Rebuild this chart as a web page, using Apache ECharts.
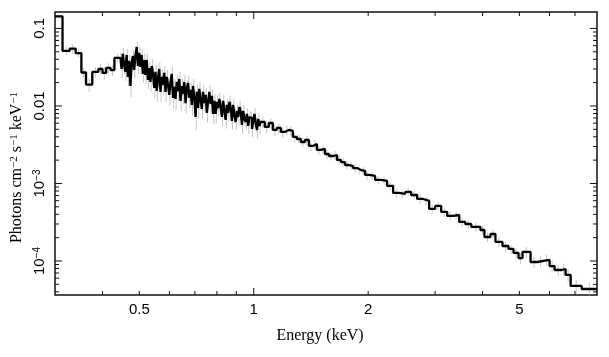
<!DOCTYPE html>
<html><head><meta charset="utf-8">
<script src="https://cdn.jsdelivr.net/npm/echarts@6/dist/echarts.min.js"></script>
<style>html,body{margin:0;padding:0;background:#fff}#c{width:609px;height:357px}</style>
</head><body><div id="c"></div>
<script>
// Bin edges in keV (n+1 values)
const binEdges = [
  0.300, 0.314, 0.328, 0.340, 0.352, 0.362, 0.376, 0.390, 0.400, 0.409, 0.420, 0.430,
  0.4457, 0.4491, 0.4525, 0.4559, 0.4595, 0.4630, 0.4665, 0.4701, 0.4737, 0.4773,
  0.4809, 0.4846, 0.4883, 0.4920, 0.4958, 0.4996, 0.5034, 0.5072, 0.5111, 0.5150,
  0.5189, 0.5229, 0.5268, 0.5308, 0.5349, 0.5390, 0.5431, 0.5472, 0.5514, 0.5556,
  0.5598, 0.5641, 0.5684, 0.5727, 0.5771, 0.5815, 0.5859, 0.5904, 0.5949, 0.5994,
  0.6040, 0.6086, 0.6132, 0.6179, 0.6226, 0.6273, 0.6321, 0.6369, 0.6418, 0.6467,
  0.6516, 0.6566, 0.6616, 0.6666, 0.6717, 0.6768, 0.6820, 0.6872, 0.6924, 0.6977,
  0.7030, 0.7084, 0.7138, 0.7192, 0.7247, 0.7302, 0.7358, 0.7414, 0.7471, 0.7528,
  0.7585, 0.7643, 0.7701, 0.7760, 0.7819, 0.7879, 0.7939, 0.8000, 0.8060, 0.8121,
  0.8184, 0.8246, 0.8309, 0.8372, 0.8436, 0.8500, 0.8565, 0.8630, 0.8696, 0.8762,
  0.8829, 0.8896, 0.8964, 0.9032, 0.9101, 0.9170, 0.9240, 0.9310, 0.9382, 0.9453,
  0.9525, 0.9598, 0.9671, 0.9745, 0.9819, 0.9894, 0.9969, 1.0045, 1.0122, 1.0199,
  1.0277, 1.0355,
  1.0434, 1.0691, 1.0954, 1.1223, 1.1499, 1.1782, 1.2072, 1.2369, 1.2673, 1.2985,
  1.3304, 1.3631, 1.3967, 1.4310, 1.4662, 1.5023, 1.5393, 1.5771, 1.6159, 1.6557,
  1.6964, 1.7381, 1.7809, 1.8247, 1.8696, 1.9156, 1.9627,
  2.0110, 2.0856, 2.1629, 2.2431, 2.3263, 2.4126, 2.5021, 2.5949, 2.6911, 2.7909,
  2.8944, 3.0018, 3.1131, 3.2286, 3.3483, 3.4725, 3.6013,
  3.7348, 3.948, 4.045, 4.195, 4.324, 4.512, 4.679, 4.824, 4.973, 5.095,
  5.349, 5.581, 5.788, 6.003, 6.188, 6.457, 6.615, 6.820, 7.292, 8.0
];
// Flux (photons cm^-2 s^-1 keV^-1), one per bin
const flux = [
  0.143, 0.0513, 0.055, 0.048, 0.027, 0.0189, 0.0275, 0.030, 0.0267, 0.031, 0.029, 0.0416,
  0.0404, 0.0300, 0.0469, 0.0338, 0.0275, 0.0455, 0.0237, 0.0381,
  0.0181, 0.0359, 0.0442, 0.0291, 0.0442, 0.0577, 0.0328, 0.0483,
  0.0319, 0.0455, 0.0259, 0.0392, 0.0251, 0.0392, 0.0217, 0.0309,
  0.0204, 0.0328, 0.0259, 0.0171, 0.0275, 0.0156, 0.0230, 0.0300,
  0.0152, 0.0237, 0.0187, 0.0267, 0.0152, 0.0237, 0.0187, 0.0139,
  0.0204, 0.0259, 0.0127, 0.0176, 0.0123, 0.0204, 0.0156, 0.0223,
  0.0116, 0.0181, 0.0143, 0.0204, 0.0109, 0.0171, 0.0198, 0.0127,
  0.0161, 0.0103, 0.0181, 0.0127, 0.00721, 0.0152, 0.00942, 0.0166,
  0.0120, 0.00915, 0.0152, 0.0109, 0.0139, 0.00812, 0.0116, 0.0152,
  0.0106, 0.0135, 0.00788, 0.0116, 0.00788, 0.0113, 0.00942, 0.0123,
  0.00971, 0.00721, 0.0116, 0.00862, 0.00660, 0.0103, 0.00812, 0.0113,
  0.00942, 0.00641, 0.0103, 0.00765, 0.00622, 0.00862, 0.00721, 0.00971,
  0.00837, 0.00569, 0.00862, 0.00679, 0.00622, 0.00788, 0.00552, 0.00721,
  0.00700, 0.00505, 0.00641, 0.00788, 0.00586, 0.00490, 0.00679, 0.00552,
  0.00622, 0.00536, 0.00603, 0.00490, 0.00520, 0.00462, 0.00490, 0.00476, 0.00398, 0.00375,
  0.00343, 0.00364, 0.00305, 0.00323, 0.00271, 0.00279, 0.00240, 0.00226, 0.00233, 0.00201,
  0.00189, 0.00173, 0.00168, 0.00158, 0.00149, 0.00145, 0.00129,
  1.25e-3, 1.11e-3, 1.08e-3, 9.3e-4, 7.54e-4, 7.32e-4, 7.77e-4, 7.10e-4, 6.31e-4, 5.95e-4,
  4.69e-4, 5.13e-4, 4.29e-4, 3.81e-4, 3.92e-4, 3.19e-4, 3.00e-4,
  2.75e-4, 2.51e-4, 2.04e-4, 2.23e-4, 1.76e-4, 1.56e-4, 1.43e-4, 1.27e-4, 1.09e-4, 1.31e-4,
  9.7e-5, 1.0e-4, 1.03e-4, 8.6e-5, 7.65e-5, 7.88e-5, 6.6e-5, 4.76e-5, 4.35e-5
];
// Relative 1-sigma errors, one per bin
const relErr = [
  0.06, 0.12, 0.14, 0.12, 0.16, 0.20, 0.16, 0.15, 0.18, 0.15, 0.16, 0.14,
  0.20, 0.24, 0.19, 0.22, 0.24, 0.20, 0.25, 0.21, 0.28, 0.22, 0.20, 0.23, 0.19, 0.17, 0.21, 0.18,
  0.22, 0.19, 0.23, 0.20, 0.23, 0.21, 0.24, 0.22, 0.25, 0.22, 0.24, 0.26, 0.23, 0.27, 0.24, 0.22,
  0.26, 0.23, 0.25, 0.22, 0.26, 0.23, 0.25, 0.27, 0.24, 0.23, 0.27, 0.25, 0.27, 0.24, 0.26, 0.23,
  0.27, 0.25, 0.26, 0.24, 0.27, 0.25, 0.24, 0.26, 0.25, 0.27, 0.24, 0.26, 0.32, 0.24, 0.26, 0.23,
  0.24, 0.25, 0.22, 0.24, 0.23, 0.25, 0.23, 0.22, 0.24, 0.22, 0.25, 0.23, 0.24, 0.22, 0.23, 0.21,
  0.22, 0.23, 0.21, 0.22, 0.23, 0.21, 0.22, 0.20, 0.21, 0.23, 0.20, 0.22, 0.22, 0.20, 0.21, 0.19,
  0.20, 0.22, 0.19, 0.21, 0.21, 0.19, 0.22, 0.20, 0.20, 0.22, 0.20, 0.19, 0.21, 0.22, 0.19, 0.21,
  0.16, 0.17, 0.15, 0.16, 0.15, 0.15, 0.14, 0.14, 0.15, 0.14,
  0.14, 0.14, 0.14, 0.13, 0.14, 0.13, 0.14, 0.13, 0.13, 0.14,
  0.13, 0.13, 0.12, 0.13, 0.12, 0.12, 0.13,
  0.12, 0.12, 0.11, 0.12, 0.13, 0.12, 0.12, 0.12, 0.13, 0.12,
  0.13, 0.12, 0.13, 0.13, 0.12, 0.13, 0.13,
  0.13, 0.14, 0.14, 0.13, 0.14, 0.15, 0.14, 0.15, 0.16, 0.15,
  0.16, 0.16, 0.16, 0.17, 0.17, 0.17, 0.18, 0.20, 0.20
];
const xRange = [0.3, 8];
const yRange = [3.64e-5, 0.163];
const xMajorTicks = [1];
const xMinorTicks = [0.4, 0.5, 0.6, 0.7, 0.8, 0.9, 2, 3, 4, 5, 6, 7];
const xLabelValues = [0.5, 1, 2, 5];
const xLabelTexts = ['0.5', '1', '2', '5'];
const yMajorTicks = [1e-4, 1e-3, 1e-2, 1e-1];
const yMinorTicks = [4e-5, 5e-5, 6e-5, 7e-5, 8e-5, 9e-5,
  2e-4, 3e-4, 4e-4, 5e-4, 6e-4, 7e-4, 8e-4, 9e-4,
  2e-3, 3e-3, 4e-3, 5e-3, 6e-3, 7e-3, 8e-3, 9e-3,
  0.02, 0.03, 0.04, 0.05, 0.06, 0.07, 0.08, 0.09];
const yLabelValues = [0.1, 0.01, 0.001, 0.0001];
const yLabelTexts = ['0.1', '0.01', '{m|10}{s|\u22123}', '{m|10}{s|\u22124}'];

const n = flux.length;
const stepData = binEdges.map((e, i) => [e, flux[Math.min(i, n - 1)]]);
const errData = flux.map((v, i) => [Math.sqrt(binEdges[i] * binEdges[i + 1]), v * (1 - relErr[i]), v * (1 + relErr[i])]);

const MAJ = 7, MIN = 4;
const tickData = [];
xMajorTicks.forEach(v => { tickData.push([v, yRange[0], 0, MAJ]); tickData.push([v, yRange[1], 1, MAJ]); });
xMinorTicks.forEach(v => { tickData.push([v, yRange[0], 0, MIN]); tickData.push([v, yRange[1], 1, MIN]); });
yMajorTicks.forEach(v => { tickData.push([xRange[0], v, 2, MAJ]); tickData.push([xRange[1], v, 3, MAJ]); });
yMinorTicks.forEach(v => { tickData.push([xRange[0], v, 2, MIN]); tickData.push([xRange[1], v, 3, MIN]); });

const labelData = [];
xLabelValues.forEach((v, i) => labelData.push([v, yRange[0], 0, i]));
yLabelValues.forEach((v, i) => labelData.push([xRange[0], v, 1, i]));

const SANS = '"Liberation Sans", Arial, Helvetica, sans-serif';
const SERIF = '"Liberation Serif", "Times New Roman", serif';

const chart = echarts.init(document.getElementById('c'), null, {renderer: 'canvas'});
chart.setOption({
  animation: false,
  backgroundColor: '#fff',
  grid: {left: 55, right: 12, top: 12, bottom: 62, show: true, borderColor: '#111', borderWidth: 1.5, backgroundColor: 'transparent'},
  xAxis: {
    type: 'log', logBase: 10, min: xRange[0], max: xRange[1],
    axisLine: {show: false}, axisTick: {show: false}, axisLabel: {show: false}, splitLine: {show: false},
    name: 'Energy (keV)', nameLocation: 'middle', nameGap: 33,
    nameTextStyle: {fontFamily: SERIF, fontSize: 16, color: '#000', padding: [0, 12, 0, 0]}
  },
  yAxis: {
    type: 'log', logBase: 10, min: yRange[0], max: yRange[1],
    axisLine: {show: false}, axisTick: {show: false}, axisLabel: {show: false}, splitLine: {show: false},
    name: '{t|Photons cm}{s|\u22122}{t| s}{s|\u22121}{t| keV}{s|\u22121}',
    nameLocation: 'middle', nameRotate: 90, nameGap: 30,
    nameTextStyle: {
      color: '#000', padding: [0, 28, 0, 0],
      rich: {
        t: {fontFamily: SERIF, fontSize: 16, color: '#000'},
        s: {fontFamily: SERIF, fontSize: 11, color: '#000', verticalAlign: 'top'}
      }
    }
  },
  series: [
    {
      type: 'custom', name: 'errors', clip: true, z: 1,
      data: errData,
      renderItem: function (params, api) {
        const a = api.coord([api.value(0), api.value(1)]);
        const b = api.coord([api.value(0), api.value(2)]);
        return {type: 'line', shape: {x1: a[0], y1: a[1], x2: b[0], y2: b[1]}, style: {stroke: '#c4c4c4', lineWidth: 1}};
      }
    },
    {
      type: 'line', name: 'spectrum', step: 'end', symbol: 'none', z: 3,
      data: stepData,
      lineStyle: {color: '#000', width: 2.3}
    },
    {
      type: 'custom', name: 'ticks', clip: false, z: 5, silent: true,
      data: tickData,
      renderItem: function (params, api) {
        const p = api.coord([api.value(0), api.value(1)]);
        const side = api.value(2), len = api.value(3);
        let x2 = p[0], y2 = p[1];
        if (side === 0) y2 -= len; else if (side === 1) y2 += len;
        else if (side === 2) x2 += len; else x2 -= len;
        return {type: 'line', shape: {x1: p[0], y1: p[1], x2: x2, y2: y2}, style: {stroke: '#111', lineWidth: 1}};
      }
    },
    {
      type: 'custom', name: 'tickLabels', clip: false, z: 5, silent: true,
      data: labelData,
      renderItem: function (params, api) {
        const p = api.coord([api.value(0), api.value(1)]);
        const kind = api.value(2), idx = api.value(3);
        if (kind === 0) {
          return {type: 'text', x: p[0], y: p[1] + 7,
            style: {text: xLabelTexts[idx], fill: '#000', font: '15px ' + SANS, align: 'center', verticalAlign: 'top'}};
        }
        return {type: 'text', x: p[0] - 15, y: p[1], rotation: Math.PI / 2,
          style: {text: yLabelTexts[idx], fill: '#000', align: 'center', verticalAlign: 'middle',
            font: '15px ' + SANS,
            rich: {
              m: {fontFamily: SANS, fontSize: 15, fill: '#000'},
              s: {fontFamily: SANS, fontSize: 10, fill: '#000', verticalAlign: 'top'}
            }}};
      }
    }
  ]
});
</script></body></html>
